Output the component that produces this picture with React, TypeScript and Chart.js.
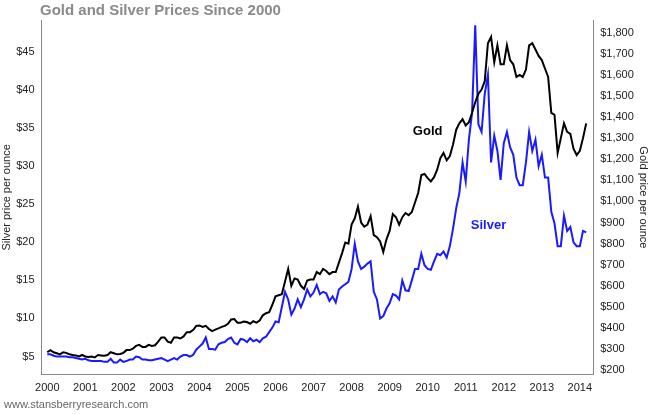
import React, { useEffect, useRef } from "react";
import { Chart, registerables } from "chart.js";
Chart.register(...registerables);

const startYear = 2000;
const goldMonthly = [
285,295,285,280,275,285,282,275,272,270,265,272,
265,262,265,260,272,270,268,272,285,280,275,277,
282,295,295,302,315,320,310,310,320,315,318,335,
355,355,335,330,355,355,350,360,380,380,390,410,
412,405,410,395,385,392,398,405,410,420,440,442,
425,425,430,428,420,432,425,435,460,470,475,510,
550,555,560,620,680,600,635,630,600,585,625,630,
630,665,655,680,670,655,665,665,710,755,805,800,
890,920,975,900,880,890,930,840,830,810,760,820,
860,940,925,890,925,945,935,950,995,1040,1125,1130,
1110,1095,1115,1150,1205,1230,1195,1215,1270,1340,1370,1390,
1360,1375,1420,1470,1510,1530,1570,1750,1780,1660,1740,1650,
1650,1740,1670,1650,1590,1600,1590,1625,1740,1750,1720,1690,
1670,1630,1590,1420,1410,1230,1300,1370,1330,1320,1250,1220,
1240,1300,1370];
const silverMonthly = [
5.3,5.3,5.1,5.0,5.0,5.0,5.0,4.9,4.9,4.8,4.7,4.6,
4.7,4.5,4.4,4.4,4.4,4.4,4.3,4.3,4.7,4.2,4.2,4.6,
4.3,4.4,4.6,4.6,5.0,4.9,4.6,4.6,4.5,4.5,4.6,4.7,
4.8,4.6,4.4,4.6,4.8,4.6,5.0,5.2,5.2,5.0,5.2,5.9,
6.3,6.7,7.5,6.0,6.0,5.9,6.6,6.8,6.9,7.3,7.5,6.8,
6.6,7.3,7.2,6.9,7.4,7.0,7.2,6.9,7.4,7.6,8.2,8.8,
9.6,9.5,11.5,13.5,12.5,10.5,11.3,12.5,11.5,12.5,13.8,12.9,
13.4,14.4,13.2,13.5,13.3,12.3,12.9,12.1,13.8,14.2,14.5,14.8,
16.5,19.8,17.5,16.5,16.8,17.2,17.5,13.5,12.5,10.0,10.3,11.3,
12.0,13.2,13.0,12.5,15.0,13.7,13.6,15.0,16.5,16.5,18.5,17.0,
16.5,16.4,17.5,18.5,18.3,18.8,18.0,19.5,21.8,24.5,26.5,30.5,
28.0,33.5,37.0,48.5,35.5,34.5,39.5,42.0,30.5,34.0,32.0,28.2,
33.0,34.5,32.5,31.5,28.5,27.5,27.5,30.5,34.5,32.0,33.5,30.0,
31.5,28.5,28.5,24.0,22.5,19.5,19.5,23.5,21.5,22.0,20.0,19.5,
19.5,21.5,21.3];
const silverTicks = [5, 10, 15, 20, 25, 30, 35, 40, 45];
const title = "Gold and Silver Prices Since 2000";
const footer = "www.stansberryresearch.com";

const toPts = (arr: number[]) => arr.map((v, i) => ({ x: startYear + i / 12, y: v }));

export default function App() {
  const ref = useRef<HTMLCanvasElement>(null);
  useEffect(() => {
    const font = "Arial, 'Liberation Sans', sans-serif";
    const deco = {
      id: "deco",
      afterDraw(c: any) {
        const ctx = c.ctx;
        const x = c.scales.x, yg = c.scales.yGold, ys = c.scales.ySilver;
        ctx.save();
        ctx.fillStyle = "#8a8a8a";
        ctx.font = `bold 15px ${font}`;
        ctx.textBaseline = "middle";
        ctx.fillText(title, 40, 11);
        ctx.font = `11px ${font}`;
        ctx.fillStyle = "#666";
        ctx.fillText(footer, 4, 405);
        ctx.font = `bold 13px ${font}`;
        ctx.fillStyle = "#000";
        ctx.textAlign = "center";
        ctx.fillText("Gold", x.getPixelForValue(2010.0), yg.getPixelForValue(1330));
        ctx.fillStyle = "#1a1aff";
        ctx.fillText("Silver", x.getPixelForValue(2011.6), ys.getPixelForValue(22.2));
        ctx.restore();
      },
    };
    const chart = new Chart(ref.current!, {
      type: "line",
      data: {
        datasets: [
          { label: "Gold", data: toPts(goldMonthly), yAxisID: "yGold", borderColor: "#000", borderWidth: 2, pointRadius: 0, tension: 0 },
          { label: "Silver", data: toPts(silverMonthly), yAxisID: "ySilver", borderColor: "#1a1aff", borderWidth: 2, pointRadius: 0, tension: 0 },
        ],
      },
      options: {
        animation: false,
        responsive: false,
        layout: { padding: { top: 20, bottom: 16, left: 0, right: 0 } },
        plugins: { legend: { display: false }, tooltip: { enabled: false } },
        scales: {
          x: {
            type: "linear", min: 1999.85, max: 2014.35,
            afterBuildTicks: (s: any) => { s.ticks = Array.from({ length: 15 }, (_, i) => ({ value: 2000 + i })); },
            ticks: { callback: (v: any) => String(v), color: "#222", font: { size: 11, family: font }, maxRotation: 0, autoSkip: false },
            grid: { display: false, drawTicks: true, tickLength: 4 },
            border: { color: "#888" },
          },
          ySilver: {
            position: "left", min: 2.6, max: 49.2,
            afterBuildTicks: (s: any) => { s.ticks = silverTicks.map((v) => ({ value: v })); },
            ticks: { callback: (v: any) => "$" + v, color: "#222", font: { size: 11, family: font } },
            grid: { display: false, tickLength: 4 },
            border: { color: "#888" },
            title: { display: true, text: "Silver price per ounce", color: "#222", font: { size: 11, family: font }, padding: 0 },
          },
          yGold: {
            position: "right", min: 178, max: 1860,
            afterBuildTicks: (s: any) => { s.ticks = Array.from({ length: 17 }, (_, i) => ({ value: 200 + i * 100 })); },
            ticks: { callback: (v: any) => "$" + Number(v).toLocaleString("en-US"), color: "#222", font: { size: 11, family: font } },
            grid: { display: false, tickLength: 4 },
            border: { color: "#888" },
            title: { display: true, text: "Gold price per ounce", color: "#222", font: { size: 11, family: font }, padding: 0 },
          },
        },
      },
      plugins: [deco],
    });
    return () => chart.destroy();
  }, []);
  return (
    <div style={{ position: "fixed", left: 0, top: 0, width: 650, height: 414, background: "#fff" }}>
      <canvas ref={ref} width={650} height={414} style={{ width: 650, height: 414 }} />
    </div>
  );
}
